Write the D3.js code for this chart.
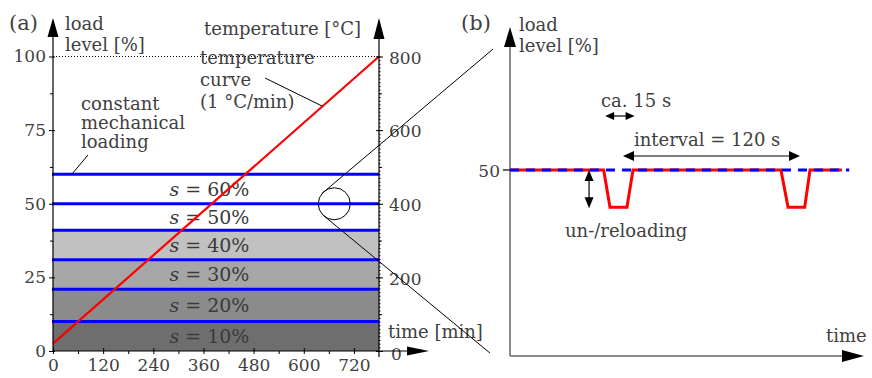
<!DOCTYPE html>
<html>
<head>
<meta charset="utf-8">
<script src="https://cdn.jsdelivr.net/npm/d3@7"></script>
<style>
  body { margin: 0; background: #fff; }
  svg text { font-family: "DejaVu Serif", "Liberation Serif", serif; fill: #404040; font-size: 18px; }
</style>
</head>
<body>
<div id="wrapper"></div>
<script>
// ---- data (a) ----
const loadLevels = [10, 21, 31, 41, 50, 60];
const bandLabels = ["10%", "20%", "30%", "40%", "50%", "60%"];
const loadTicks = [0, 25, 50, 75, 100];
const timeTicks = [0, 120, 240, 360, 480, 600, 720];
const tempTicks = [0, 200, 400, 600, 800];
const tempTime = [0, 780];
const tempValues = [20, 800];
const zoomSpot = [673, 50];

// ---- data (b) ----
const cycleTime = [0, 63.5, 67.8, 79.3, 83.4, 183.7, 188.5, 199.8, 203.4, 225];
const cycleLoad = [50, 50, 40, 40, 50, 50, 40, 40, 50, 50];
const constTime = [0, 230];
const constLoad = [50, 50];
const pauseSpan = [64.5, 84.5];
const intervalSpan = [76.6, 196.6];
const unloadAt = 53.6;
// zoom connector ends, in (b) data units [time s, load %]
const linkEnds = [[-11.5, 82.5], [-13.6, 0.8]];

const grays = ["#6e6e6e", "#8b8b8b", "#a6a6a6", "#c1c1c1"];

const width = 872, height = 378;
const svg = d3.select("#wrapper").append("svg")
    .attr("width", width)
    .attr("height", height);

function tri(x, y, ang, len, w) {
    // arrow head with tip at (x,y) pointing in direction ang (radians)
    const c = Math.cos(ang), s = Math.sin(ang);
    const bx = x - c * len, by = y - s * len;
    return [[x, y], [bx - s * w, by + c * w], [bx + s * w, by - c * w]]
        .map(p => p.join(",")).join(" ");
}

// ================= panel (a) =================
const xL = d3.scaleLinear().domain([0, 780]).range([53, 379]);
const yL = d3.scaleLinear().domain([0, 100]).range([351, 56.5]);
const yT = d3.scaleLinear().domain([0, 800]).range([351, 56.5]);

const a = svg.append("g");

// grey bands
const bandTops = loadLevels.slice(0, grays.length);
a.selectAll(".band").data(bandTops).join("rect")
    .attr("x", xL(0))
    .attr("width", xL(780) - xL(0))
    .attr("y", d => yL(d))
    .attr("height", (d, i) => yL(i ? loadLevels[i - 1] : 0) - yL(d))
    .attr("fill", (d, i) => grays[i]);

// dotted 100 % line
a.append("line")
    .attr("x1", xL(0)).attr("x2", xL(780))
    .attr("y1", yL(100)).attr("y2", yL(100))
    .attr("stroke", "#000").attr("stroke-width", 1)
    .attr("stroke-dasharray", "1,2");

// band labels
const lab = a.selectAll(".slab").data(loadLevels).join("text")
    .attr("x", xL(470))
    .attr("y", (d, i) => yL((d + (i ? loadLevels[i - 1] : 0)) / 2) + 7)
    .attr("text-anchor", "end")
    .style("font-size", "19px")
    .style("fill", "#3a3a3a");
lab.append("tspan").attr("font-style", "italic").text("s");
lab.append("tspan").text((d, i) => " = " + bandLabels[i]);

// blue load lines
a.selectAll(".lvl").data(loadLevels).join("line")
    .attr("x1", xL(0) - 1).attr("x2", xL(780))
    .attr("y1", d => yL(d)).attr("y2", d => yL(d))
    .attr("stroke", "#0000ff").attr("stroke-width", 3);

// temperature curve
const tempLine = d3.line()
    .x((d, i) => xL(tempTime[i]))
    .y(d => yT(d));
a.append("path")
    .attr("d", tempLine(tempValues))
    .attr("fill", "none")
    .attr("stroke", "#ff0000")
    .attr("stroke-width", 2.2);

// axes
const leftAxis = a.append("g")
    .attr("transform", `translate(${xL(0)},0)`)
    .call(d3.axisLeft(yL).tickValues(loadTicks).tickSize(4).tickPadding(3));
a.append("g")
    .attr("transform", `translate(${xL(0)},0)`)
    .call(d3.axisLeft(yL).tickValues(d3.range(12.5, 100, 25)).tickSize(3).tickFormat(""));

const bottomAxis = a.append("g")
    .attr("transform", `translate(0,${yL(0)})`)
    .call(d3.axisBottom(xL).tickValues(timeTicks).tickSize(3).tickPadding(5));
a.append("g")
    .attr("transform", `translate(0,${yL(0)})`)
    .call(d3.axisBottom(xL).tickValues(d3.range(60, 780, 120)).tickSize(3).tickFormat(""));

const rightAxis = a.append("g")
    .attr("transform", `translate(${xL(780)},0)`)
    .call(d3.axisRight(yT).tickValues(tempTicks).tickSize(4).tickPadding(6));
a.append("g")
    .attr("transform", `translate(${xL(780)},0)`)
    .call(d3.axisRight(yT).tickValues(d3.range(100, 800, 200)).tickSize(3).tickFormat(""));
a.append("g")
    .attr("transform", `translate(${xL(780)},0)`)
    .call(d3.axisRight(yT).tickValues(d3.range(0, 801, 10)).tickSize(1.5).tickFormat(""));

a.selectAll(".domain").remove();
a.selectAll(".tick line").attr("stroke", "#000");
leftAxis.selectAll(".tick line").attr("x2", -4).attr("x1", 2);
bottomAxis.selectAll(".tick line").attr("y1", -3);
rightAxis.selectAll(".tick line").attr("x1", -3);
a.selectAll("g").attr("font-family", null).attr("font-size", null);
a.selectAll(".tick text").attr("fill", "#404040").style("font-size", "17px");
rightAxis.selectAll(".tick text").attr("dy", "0.4em");
rightAxis.selectAll(".tick").filter(d => d === 0).select("text").attr("x", 12).attr("dy", "0.5em");

// axis lines with arrows
a.append("line").attr("x1", xL(0)).attr("x2", xL(0))
    .attr("y1", yL(0)).attr("y2", 30).attr("stroke", "#000").attr("stroke-width", 1.2);
a.append("polygon").attr("points", tri(xL(0), 18, -Math.PI / 2, 19, 5.5));
a.append("line").attr("x1", xL(780)).attr("x2", xL(780))
    .attr("y1", yL(0) + 6).attr("y2", 30).attr("stroke", "#000").attr("stroke-width", 1.2);
a.append("polygon").attr("points", tri(xL(780), 18, -Math.PI / 2, 21, 5.5));
a.append("line").attr("x1", xL(0)).attr("x2", 415)
    .attr("y1", yL(0)).attr("y2", yL(0)).attr("stroke", "#000").attr("stroke-width", 1.2);
a.append("polygon").attr("points", tri(429, yL(0), 0, 22, 4.5));

// zoom circle
const cx = xL(zoomSpot[0]), cy = yL(zoomSpot[1]), r = 16;
a.append("circle").attr("cx", cx).attr("cy", cy).attr("r", r)
    .attr("fill", "none").attr("stroke", "#000").attr("stroke-width", 1);

// texts (a)
const txt = (g, x, y, s) => g.append("text").attr("x", x).attr("y", y).text(s);
txt(a, 9, 30, "(a)").style("font-size", "21px");
txt(a, 65, 30, "load");
txt(a, 65, 51, "level [%]");
txt(a, 204, 35, "temperature [°C]");
txt(a, 200, 64, "temperature");
txt(a, 200, 86, "curve");
txt(a, 200, 108, "(1 °C/min)");
txt(a, 81, 110, "constant");
txt(a, 81, 129, "mechanical");
txt(a, 81, 148, "loading");
txt(a, 388, 338, "time [min]");

// leader lines
a.append("line").attr("x1", 88).attr("y1", 155).attr("x2", 72).attr("y2", 174)
    .attr("stroke", "#000").attr("stroke-width", 1);
a.append("line").attr("x1", 265).attr("y1", 78)
    .attr("x2", 322).attr("y2", 106)
    .attr("stroke", "#000").attr("stroke-width", 1);

// ================= panel (b) =================
const xR = d3.scaleLinear().domain([0, 240]).range([510, 864]);
const yR = d3.scaleLinear().domain([0, 88]).range([356, 28.6]);
const b = svg.append("g");

// connectors from zoom circle
const angs = [-140, 135].map(d => d * Math.PI / 180);
b.selectAll(".link").data(linkEnds).join("line")
    .attr("x1", (d, i) => cx + r * Math.cos(angs[i]))
    .attr("y1", (d, i) => cy + r * Math.sin(angs[i]))
    .attr("x2", d => xR(d[0]))
    .attr("y2", d => yR(d[1]))
    .attr("stroke", "#000").attr("stroke-width", 1);

// axes
b.append("line").attr("x1", xR(0)).attr("x2", xR(0))
    .attr("y1", yR(0)).attr("y2", 40).attr("stroke", "#666").attr("stroke-width", 1.5);
b.append("polygon").attr("points", tri(xR(0), 27, -Math.PI / 2, 20, 6));
b.append("line").attr("x1", xR(0)).attr("x2", 845)
    .attr("y1", yR(0)).attr("y2", yR(0)).attr("stroke", "#666").attr("stroke-width", 1.5);
b.append("polygon").attr("points", tri(xR(240), yR(0), 0, 22, 6));
b.append("line").attr("x1", xR(0) - 7).attr("x2", xR(0))
    .attr("y1", yR(50)).attr("y2", yR(50)).attr("stroke", "#000").attr("stroke-width", 1.2);
b.append("text").attr("x", xR(0) - 10).attr("y", yR(50) + 7)
    .attr("text-anchor", "end").style("font-size", "17px").text("50");

// load cycles
const cycLine = d3.line().x((d, i) => xR(cycleTime[i])).y(d => yR(d));
b.append("path").attr("d", cycLine(cycleLoad))
    .attr("fill", "none").attr("stroke", "#ff0000").attr("stroke-width", 3);
const constLine = d3.line().x((d, i) => xR(constTime[i])).y(d => yR(d));
b.append("path").attr("d", constLine(constLoad))
    .attr("fill", "none").attr("stroke", "#0000ff").attr("stroke-width", 3)
    .attr("stroke-dasharray", "9,7");

// dimension arrows
function dimH(t0, t1, y, len, w) {
    b.append("line").attr("x1", xR(t0) + len - 1).attr("x2", xR(t1) - len + 1)
        .attr("y1", y).attr("y2", y).attr("stroke", "#000").attr("stroke-width", 1.2);
    b.append("polygon").attr("points", tri(xR(t0), y, Math.PI, len, w));
    b.append("polygon").attr("points", tri(xR(t1), y, 0, len, w));
}
dimH(pauseSpan[0], pauseSpan[1], 116, 9, 4);
dimH(intervalSpan[0], intervalSpan[1], 156, 11, 5);

const ux = xR(unloadAt);
b.append("line").attr("x1", ux).attr("x2", ux)
    .attr("y1", yR(50) + 10).attr("y2", yR(40) - 9)
    .attr("stroke", "#000").attr("stroke-width", 1.2);
b.append("polygon").attr("points", tri(ux, yR(50), -Math.PI / 2, 11, 4.5));
b.append("polygon").attr("points", tri(ux, yR(40) + 1, Math.PI / 2, 11, 4.5));

// texts (b)
txt(b, 461, 30, "(b)").style("font-size", "21px");
txt(b, 519, 31, "load");
txt(b, 519, 52, "level [%]");
txt(b, 601, 107, "ca. 15 s");
txt(b, 634, 146, "interval = 120 s");
txt(b, 565, 237, "un-/reloading");
txt(b, 826, 342, "time");
</script>
</body>
</html>
